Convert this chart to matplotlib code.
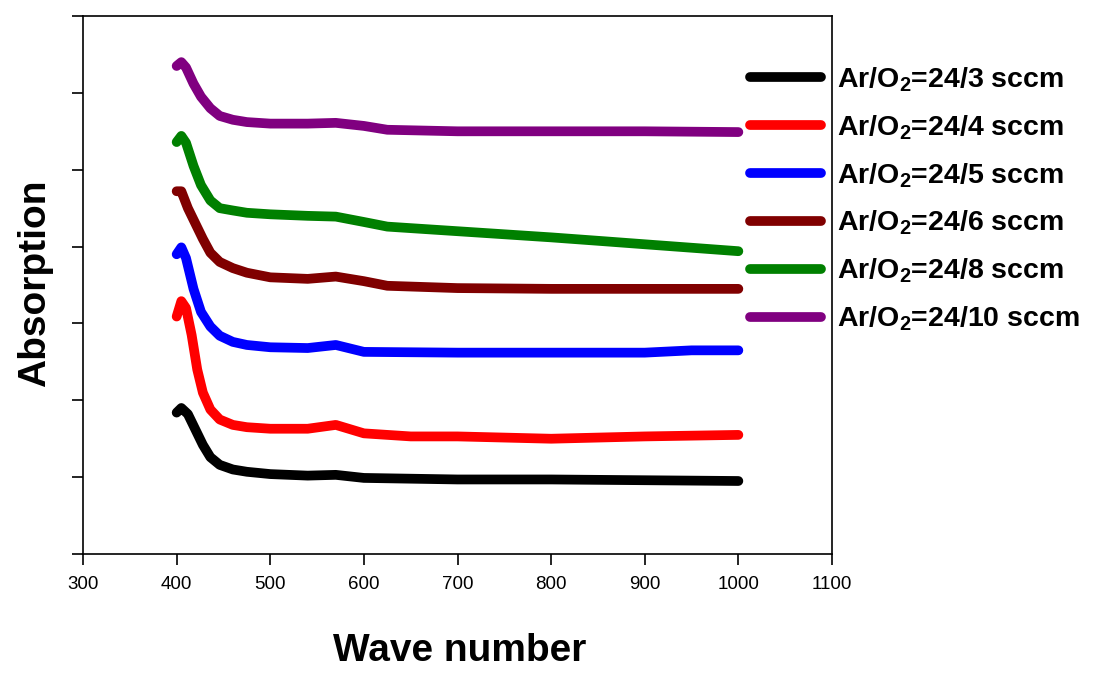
import matplotlib
matplotlib.use("Agg")
import matplotlib.pyplot as plt

plt.rcParams['font.family'] = ['Liberation Sans', 'DejaVu Sans']
plt.rcParams['mathtext.fontset'] = 'custom'
plt.rcParams['mathtext.rm'] = 'Liberation Sans:bold'
plt.rcParams['mathtext.it'] = 'Liberation Sans:bold'
plt.rcParams['mathtext.bf'] = 'Liberation Sans:bold'

# values (wave number, absorption)
x_3 = [400, 405, 412, 420, 428, 436, 446, 460, 475, 500, 540, 570, 600, 700, 800, 900, 1000]
y_3 = [1.84, 1.90, 1.82, 1.62, 1.42, 1.26, 1.16, 1.10, 1.07, 1.04, 1.02, 1.03, 0.99, 0.97, 0.97, 0.96, 0.95]

x_4 = [400, 405, 410, 416, 422, 428, 436, 446, 460, 475, 500, 540, 570, 600, 650, 700, 800, 900, 1000]
y_4 = [3.09, 3.29, 3.20, 2.85, 2.40, 2.10, 1.88, 1.75, 1.68, 1.65, 1.63, 1.63, 1.68, 1.57, 1.53, 1.53, 1.50, 1.53, 1.55]

x_5 = [400, 405, 410, 418, 426, 436, 446, 460, 475, 500, 540, 570, 600, 700, 800, 900, 950, 1000]
y_5 = [3.90, 3.99, 3.85, 3.45, 3.15, 2.96, 2.84, 2.76, 2.72, 2.69, 2.68, 2.72, 2.63, 2.62, 2.62, 2.62, 2.65, 2.65]

x_6 = [400, 405, 412, 420, 428, 436, 446, 460, 475, 500, 540, 570, 600, 625, 700, 800, 900, 1000]
y_6 = [4.72, 4.72, 4.50, 4.30, 4.10, 3.92, 3.80, 3.72, 3.66, 3.60, 3.58, 3.61, 3.55, 3.49, 3.46, 3.45, 3.45, 3.45]

x_8 = [400, 405, 410, 418, 426, 436, 446, 460, 475, 500, 540, 570, 600, 625, 700, 750, 800, 856, 900, 1000]
y_8 = [5.36, 5.44, 5.35, 5.05, 4.80, 4.60, 4.50, 4.47, 4.44, 4.42, 4.40, 4.39, 4.32, 4.26, 4.20, 4.16, 4.12, 4.07, 4.03, 3.94]

x_10 = [400, 405, 410, 418, 426, 436, 446, 460, 475, 500, 540, 570, 600, 625, 700, 800, 900, 1000]
y_10 = [6.35, 6.40, 6.33, 6.12, 5.95, 5.80, 5.70, 5.65, 5.62, 5.60, 5.60, 5.61, 5.57, 5.52, 5.50, 5.50, 5.50, 5.49]

labels = ['Ar/O$_2$=24/3 sccm', 'Ar/O$_2$=24/4 sccm', 'Ar/O$_2$=24/5 sccm',
          'Ar/O$_2$=24/6 sccm', 'Ar/O$_2$=24/8 sccm', 'Ar/O$_2$=24/10 sccm']
colors = ['black', '#ff0000', '#0000ff', '#800000', '#008000', '#800080']
series = [(x_3, y_3), (x_4, y_4), (x_5, y_5), (x_6, y_6), (x_8, y_8), (x_10, y_10)]

fig = plt.figure(figsize=(10.94, 6.73), dpi=100)
ax = fig.add_axes([0.0759, 0.1768, 0.6846, 0.7994])

for (xs, ys), c, lab in zip(series, colors, labels):
    ax.plot(xs, ys, color=c, lw=7, label=lab, solid_capstyle='round', solid_joinstyle='round')

ax.set_xlim(300, 1100)
ax.set_ylim(0, 7)
ax.set_xticks(range(300, 1101, 100))
ax.set_yticks(range(0, 8))
ax.set_yticklabels([])
ax.tick_params(direction='out', length=8, width=1.2, labelsize=13.5, pad=8)
for s in ax.spines.values():
    s.set_linewidth(1.2)

fig.text(0.032, 0.579, 'Absorption', rotation=90, ha='center', va='center',
         fontsize=28, fontweight='bold')
fig.text(0.42, 0.032, 'Wave number', ha='center', va='center',
         fontsize=28, fontweight='bold')

leg = fig.legend(loc='upper left', bbox_to_anchor=(0.6856, 0.903), frameon=False,
                 prop={'weight': 'bold', 'size': 20.5},
                 handlelength=2.5, handletextpad=0.55, labelspacing=0.68,
                 borderpad=0, borderaxespad=0)
for line in leg.get_lines():
    line.set_linewidth(7)
    line.set_solid_capstyle('round')

fig.savefig('out.png', dpi=100)
